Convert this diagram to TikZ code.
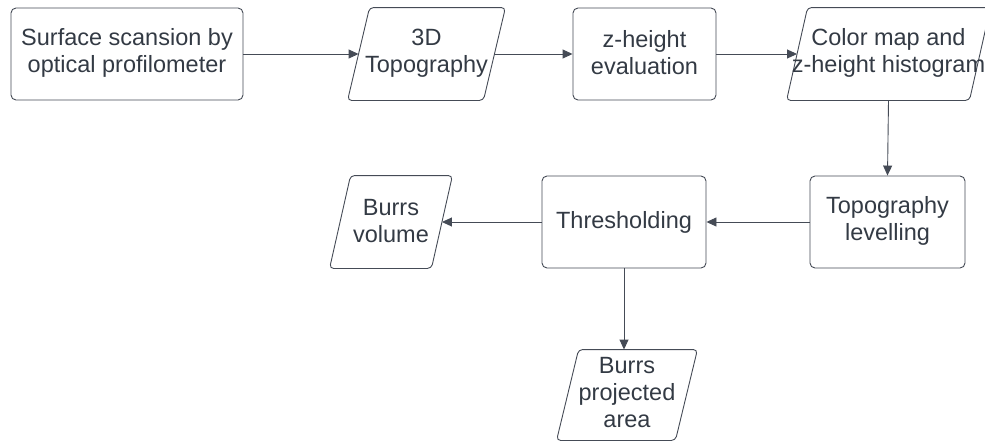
\documentclass[tikz,border=0pt]{standalone}
\usepackage{fontspec}
\setmainfont{Liberation Sans}
\usetikzlibrary{arrows.meta}
\definecolor{linec}{HTML}{454B56}
\definecolor{textc}{HTML}{333A44}
\tikzset{
  box/.style={draw=linec, line width=0.9pt, rounded corners=5pt, rectangle, minimum height=92pt, inner sep=0pt},
  parabody/.style={rectangle, minimum height=92pt, inner sep=0pt, outer sep=0.45pt},
  paraline/.style={draw=linec, line width=0.9pt, rounded corners=4pt},
  txt/.style={text=textc, align=center, font=\fontsize{23.5}{27}\selectfont, inner sep=0pt},
  arr/.style={draw=linec, line width=0.9pt, -{Triangle[length=10pt,width=9pt]}}
}
\newcommand\drawpara[2]{%
  \draw[paraline] ([xshift=-#2]#1.south west) -- ([xshift=#2]#1.north west) -- ([xshift=#2]#1.north east) -- ([xshift=-#2]#1.south east) -- cycle;}
\begin{document}
\begin{tikzpicture}[x=1pt,y=-1pt]
\useasboundingbox (0,0) rectangle (985,442);
\node[box, minimum width=232pt] (scan) at (127,54) {};
\node[txt] at ([yshift=1pt]scan.center) {Surface scansion by\\optical profilometer};
\node[parabody, minimum width=135pt] (topo) at (426.5,54) {};
\drawpara{topo}{11pt}
\node[txt] at ([yshift=1pt]topo.center) {3D\\Topography};
\node[box, minimum width=143pt] (zeval) at (644.5,54) {};
\node[txt] at ([yshift=1pt]zeval.center) {z-height\\evaluation};
\node[parabody, minimum width=182pt] (cmap) at (888.5,54) {};
\drawpara{cmap}{10.5pt}
\node[txt] at ([yshift=1pt]cmap.center) {Color map and\\z-height histogram};
\node[box, minimum width=155pt] (tlev) at (887.5,222) {};
\node[txt] at ([yshift=1pt]tlev.center) {Topography\\levelling};
\node[box, minimum width=164pt] (thr) at (624,222) {};
\node[txt] at (thr) {Thresholding};
\node[parabody, minimum width=101pt] (bvol) at (391,222) {};
\drawpara{bvol}{10.5pt}
\node[txt] at ([yshift=1pt]bvol.center) {Burrs\\volume};
\node[parabody, minimum width=118pt, minimum height=90pt] (bproj) at (627,395) {};
\drawpara{bproj}{11pt}
\node[txt] at ([yshift=2pt]bproj.center) {Burrs\\projected\\area};
\draw[arr] (scan) -- (topo);
\draw[arr] (topo) -- (zeval);
\draw[arr] (zeval) -- (cmap);
\draw[arr] (cmap.south) -- (tlev.north);
\draw[arr] (tlev) -- (thr);
\draw[arr] (thr) -- (bvol);
\draw[arr] (thr.south) -- (thr.south |- bproj.north);
\end{tikzpicture}
\end{document}
